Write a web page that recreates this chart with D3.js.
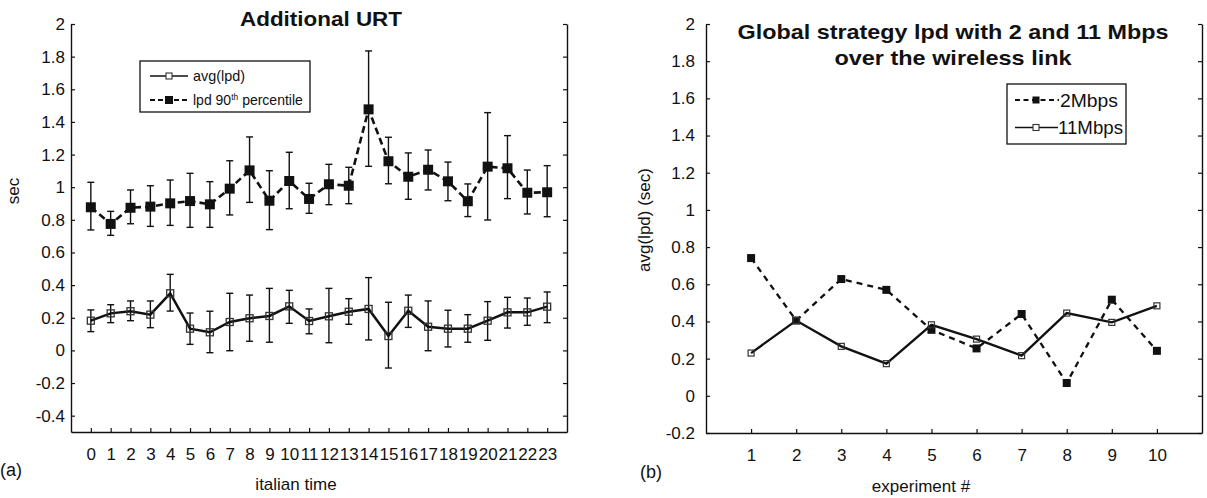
<!DOCTYPE html>
<html>
<head>
<meta charset="utf-8">
<script src="https://cdn.jsdelivr.net/npm/d3@7"></script>
<style>
  html, body { margin: 0; padding: 0; background: #fff; }
  svg { display: block; font-family: "Liberation Sans", Arial, Helvetica, sans-serif; }
</style>
</head>
<body>
<svg id="chart" width="1207" height="498"></svg>
<script>
// ---------- DATA ----------
const hours = [0,1,2,3,4,5,6,7,8,9,10,11,12,13,14,15,16,17,18,19,20,21,22,23];
const p90   = [0.877,0.775,0.874,0.881,0.901,0.915,0.895,0.991,1.103,0.917,1.038,0.928,1.018,1.009,1.477,1.159,1.064,1.107,1.036,0.914,1.126,1.116,0.966,0.969];
const p90Hi = [1.030,0.852,0.983,1.009,1.044,1.085,1.034,1.162,1.308,1.101,1.214,1.024,1.140,1.122,1.835,1.306,1.210,1.228,1.154,1.020,1.457,1.316,1.105,1.132];
const p90Lo = [0.738,0.705,0.776,0.760,0.766,0.754,0.754,0.830,0.907,0.740,0.868,0.840,0.893,0.899,1.128,1.021,0.926,0.983,0.917,0.820,0.799,0.930,0.836,0.819];
const avg   = [0.182,0.227,0.240,0.219,0.350,0.133,0.111,0.174,0.197,0.211,0.270,0.180,0.209,0.237,0.254,0.088,0.243,0.145,0.133,0.133,0.182,0.233,0.233,0.268];
const avgHi = [0.248,0.280,0.303,0.303,0.466,0.229,0.240,0.350,0.339,0.380,0.368,0.254,0.380,0.317,0.446,0.295,0.339,0.303,0.246,0.219,0.299,0.325,0.321,0.358];
const avgLo = [0.115,0.170,0.182,0.139,0.241,0.037,-0.014,-0.002,0.056,0.050,0.166,0.102,0.047,0.160,0.064,-0.108,0.141,-0.002,0.021,0.050,0.062,0.137,0.154,0.170];
const leftYTicks = [-0.4,-0.2,0,0.2,0.4,0.6,0.8,1,1.2,1.4,1.6,1.8,2];
const leftTitle = "Additional URT";
const leftLegend = ["avg(lpd)", "lpd 90", "th", " percentile"];

const experiments = [1,2,3,4,5,6,7,8,9,10];
const mbps2  = [0.741,0.405,0.628,0.570,0.355,0.255,0.440,0.069,0.517,0.242];
const mbps11 = [0.230,0.405,0.266,0.173,0.382,0.305,0.216,0.445,0.395,0.484];
const rightYTicks = [-0.2,0,0.2,0.4,0.6,0.8,1,1.2,1.4,1.6,1.8,2];
const rightTitle = ["Global strategy lpd with 2 and 11 Mbps", "over the wireless link"];
const rightLegend = ["2Mbps", "11Mbps"];

// ---------- SETUP ----------
const svg = d3.select("#chart");
const INK = "#111";
const fmt = d => String(+d.toFixed(1));

function styleAxis(g) {
  g.selectAll("path.domain").attr("stroke", INK).attr("stroke-width", 1.4);
  g.selectAll(".tick line").attr("stroke", INK).attr("stroke-width", 1.2);
  g.selectAll(".tick text").attr("fill", INK).attr("font-size", 17)
    .attr("font-family", '"Liberation Sans", Arial, sans-serif');
}

// ---------- LEFT CHART ----------
const xL = d3.scaleLinear().domain([-1, 24]).range([71, 567]);
const yL = d3.scaleLinear().domain([-0.5, 2]).range([432, 24]);
const gL = svg.append("g");

gL.append("g").attr("transform", "translate(71,0)")
  .call(d3.axisLeft(yL).tickValues(leftYTicks).tickFormat(fmt).tickSizeInner(-4).tickSizeOuter(0).tickPadding(6))
  .call(styleAxis);
gL.append("g").attr("transform", "translate(567,0)")
  .call(d3.axisRight(yL).tickValues(leftYTicks).tickFormat("").tickSizeInner(-4).tickSizeOuter(0))
  .call(styleAxis);
gL.append("g").attr("transform", "translate(0,432)")
  .call(d3.axisBottom(xL).tickValues(hours).tickFormat(d3.format("d")).tickSizeInner(-4).tickSizeOuter(0).tickPadding(16))
  .call(styleAxis);

function errorBars(g, xs, lo, hi, x, y) {
  const eb = g.append("g").attr("stroke", INK).attr("stroke-width", 1.4).attr("fill", "none");
  xs.forEach((h, i) => {
    const cx = x(h);
    eb.append("line").attr("x1", cx).attr("x2", cx).attr("y1", y(lo[i])).attr("y2", y(hi[i]));
    eb.append("line").attr("x1", cx - 3.5).attr("x2", cx + 3.5).attr("y1", y(lo[i])).attr("y2", y(lo[i]));
    eb.append("line").attr("x1", cx - 3.5).attr("x2", cx + 3.5).attr("y1", y(hi[i])).attr("y2", y(hi[i]));
  });
}
errorBars(gL, hours, p90Lo, p90Hi, xL, yL);
errorBars(gL, hours, avgLo, avgHi, xL, yL);

const lineL = (vals) => d3.line().x((d, i) => xL(hours[i])).y(d => yL(d))(vals);
gL.append("path").attr("d", lineL(p90)).attr("fill", "none").attr("stroke", INK)
  .attr("stroke-width", 2.6).attr("stroke-dasharray", "7,4");
gL.append("path").attr("d", lineL(avg)).attr("fill", "none").attr("stroke", INK)
  .attr("stroke-width", 2.5);

gL.append("g").selectAll("rect").data(p90).join("rect")
  .attr("x", (d, i) => xL(hours[i]) - 5).attr("y", d => yL(d) - 5)
  .attr("width", 10).attr("height", 10).attr("fill", INK);
gL.append("g").selectAll("rect").data(avg).join("rect")
  .attr("x", (d, i) => xL(hours[i]) - 3.5).attr("y", d => yL(d) - 3.5)
  .attr("width", 7).attr("height", 7).attr("fill", "none").attr("stroke", "#333").attr("stroke-width", 1.3);

gL.append("text").attr("x", 321).attr("y", 26).attr("text-anchor", "middle")
  .attr("font-size", 21).attr("font-weight", "bold").attr("fill", INK)
  .attr("textLength", 162).attr("lengthAdjust", "spacingAndGlyphs").text(leftTitle);

const lgL = gL.append("g");
lgL.append("rect").attr("x", 140).attr("y", 61).attr("width", 170).attr("height", 51)
  .attr("fill", "#fff").attr("stroke", INK).attr("stroke-width", 1.3);
lgL.append("line").attr("x1", 150).attr("x2", 188).attr("y1", 76).attr("y2", 76)
  .attr("stroke", INK).attr("stroke-width", 1.4);
lgL.append("rect").attr("x", 166).attr("y", 73).attr("width", 6).attr("height", 6)
  .attr("fill", "#fff").attr("stroke", "#333").attr("stroke-width", 1.1);
lgL.append("text").attr("x", 193).attr("y", 81).attr("font-size", 15).attr("fill", INK)
  .attr("textLength", 52).attr("lengthAdjust", "spacingAndGlyphs").text(leftLegend[0]);
lgL.append("line").attr("x1", 150).attr("x2", 188).attr("y1", 100).attr("y2", 100)
  .attr("stroke", INK).attr("stroke-width", 2).attr("stroke-dasharray", "5,3");
lgL.append("rect").attr("x", 165).attr("y", 96).attr("width", 8).attr("height", 8).attr("fill", INK);
const t2 = lgL.append("text").attr("x", 193).attr("y", 105).attr("font-size", 14).attr("fill", INK);
t2.append("tspan").text(leftLegend[1]);
t2.append("tspan").attr("dy", -5).attr("font-size", 8.5).text(leftLegend[2]);
t2.append("tspan").attr("dy", 5).text(leftLegend[3]);

gL.append("text").attr("transform", "translate(19,191) rotate(-90)").attr("text-anchor", "middle")
  .attr("font-size", 17).attr("fill", INK).text("sec");
gL.append("text").attr("x", 296).attr("y", 490).attr("text-anchor", "middle")
  .attr("font-size", 17).attr("fill", INK).text("italian time");
gL.append("text").attr("x", 0).attr("y", 476).attr("font-size", 18).attr("fill", INK).text("(a)");

// ---------- RIGHT CHART ----------
const xR = d3.scaleLinear().domain([0, 11]).range([706, 1202]);
const yR = d3.scaleLinear().domain([-0.2, 2]).range([433, 24]);
const gR = svg.append("g");

gR.append("g").attr("transform", "translate(706,0)")
  .call(d3.axisLeft(yR).tickValues(rightYTicks).tickFormat(fmt).tickSizeInner(-4).tickSizeOuter(0).tickPadding(11))
  .call(styleAxis);
gR.append("g").attr("transform", "translate(1202,0)")
  .call(d3.axisRight(yR).tickValues(rightYTicks).tickFormat("").tickSizeInner(-4).tickSizeOuter(0))
  .call(styleAxis);
gR.append("g").attr("transform", "translate(0,433)")
  .call(d3.axisBottom(xR).tickValues(experiments).tickFormat(d3.format("d")).tickSizeInner(-4).tickSizeOuter(0).tickPadding(16))
  .call(styleAxis);

const lineR = (vals) => d3.line().x((d, i) => xR(experiments[i])).y(d => yR(d))(vals);
gR.append("path").attr("d", lineR(mbps2)).attr("fill", "none").attr("stroke", INK)
  .attr("stroke-width", 2.3).attr("stroke-dasharray", "6,5");
gR.append("path").attr("d", lineR(mbps11)).attr("fill", "none").attr("stroke", INK)
  .attr("stroke-width", 2.3);
gR.append("g").selectAll("rect").data(mbps2).join("rect")
  .attr("x", (d, i) => xR(experiments[i]) - 4).attr("y", d => yR(d) - 4)
  .attr("width", 8).attr("height", 8).attr("fill", INK);
gR.append("g").selectAll("rect").data(mbps11).join("rect")
  .attr("x", (d, i) => xR(experiments[i]) - 3).attr("y", d => yR(d) - 3)
  .attr("width", 6).attr("height", 6).attr("fill", "none").attr("stroke", "#333").attr("stroke-width", 1.2);

rightTitle.forEach((t, i) => {
  gR.append("text").attr("x", 953).attr("y", [39, 65][i]).attr("text-anchor", "middle")
    .attr("font-size", 21).attr("font-weight", "bold").attr("fill", INK)
    .attr("textLength", [431, 237][i]).attr("lengthAdjust", "spacingAndGlyphs").text(t);
});

const lgR = gR.append("g");
lgR.append("rect").attr("x", 1007).attr("y", 84).attr("width", 119).attr("height", 60)
  .attr("fill", "#fff").attr("stroke", INK).attr("stroke-width", 1.3);
lgR.append("line").attr("x1", 1015).attr("x2", 1059).attr("y1", 100).attr("y2", 100)
  .attr("stroke", INK).attr("stroke-width", 2).attr("stroke-dasharray", "5,3.5");
lgR.append("rect").attr("x", 1032.5).attr("y", 96.5).attr("width", 7).attr("height", 7).attr("fill", INK);
lgR.append("text").attr("x", 1060).attr("y", 106.5).attr("font-size", 18).attr("fill", INK)
  .attr("textLength", 58).attr("lengthAdjust", "spacingAndGlyphs").text(rightLegend[0]);
lgR.append("line").attr("x1", 1015).attr("x2", 1058).attr("y1", 127.5).attr("y2", 127.5)
  .attr("stroke", INK).attr("stroke-width", 1.4);
lgR.append("rect").attr("x", 1033).attr("y", 124.5).attr("width", 6).attr("height", 6)
  .attr("fill", "#fff").attr("stroke", "#333").attr("stroke-width", 1.1);
lgR.append("text").attr("x", 1058).attr("y", 134).attr("font-size", 18).attr("fill", INK)
  .attr("textLength", 65).attr("lengthAdjust", "spacingAndGlyphs").text(rightLegend[1]);

gR.append("text").attr("transform", "translate(650,220) rotate(-90)").attr("text-anchor", "middle")
  .attr("font-size", 17).attr("fill", INK).text("avg(lpd)  (sec)");
gR.append("text").attr("x", 921).attr("y", 492).attr("text-anchor", "middle")
  .attr("font-size", 17).attr("fill", INK).text("experiment #");
gR.append("text").attr("x", 640).attr("y", 478).attr("font-size", 18).attr("fill", INK).text("(b)");
</script>
</body>
</html>
